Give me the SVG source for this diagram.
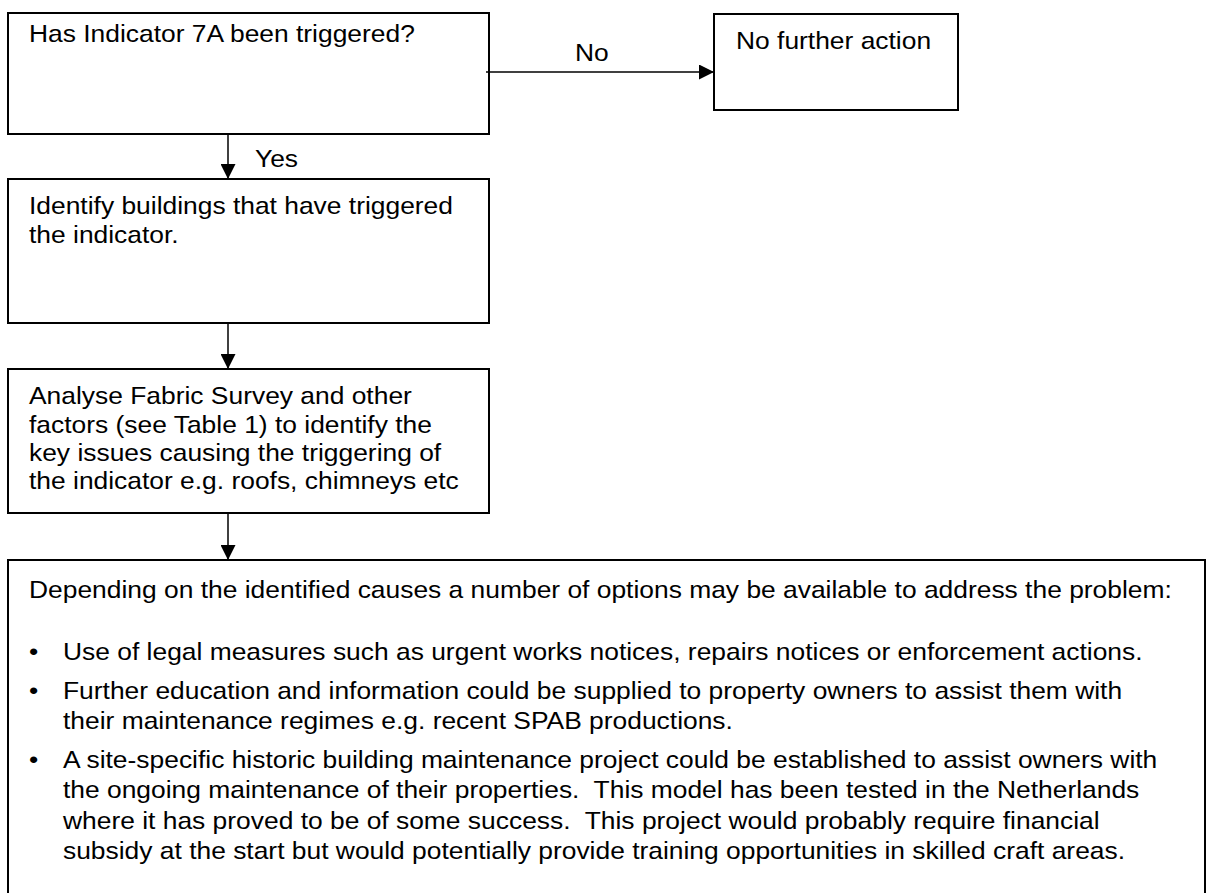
<svg xmlns="http://www.w3.org/2000/svg" width="1213" height="893" viewBox="0 0 1213 893">
  <style>
    .box { fill: #ffffff; stroke: #000000; stroke-width: 2; }
    .link { fill: none; stroke: #000000; stroke-width: 1.5; }
    .t { font-family: "Liberation Sans", Arial, sans-serif; font-size: 24px; fill: #000000; }
  </style>
  <defs>
    <marker id="arrow" markerUnits="userSpaceOnUse" markerWidth="15" markerHeight="15" refX="15" refY="7.5" orient="auto">
      <path d="M0,0 L15,7.5 L0,15 Z" fill="#000000"/>
    </marker>
  </defs>

  <rect width="1213" height="893" fill="#ffffff"/>

  <!-- decision: has the indicator been triggered -->
  <g id="node-question">
    <rect class="box" x="8" y="13" width="481" height="121"/>
    <text class="t" transform="translate(29 42) scale(1.1 1)">Has Indicator 7A been triggered?</text>
  </g>

  <!-- end state -->
  <g id="node-no-action">
    <rect class="box" x="714" y="14" width="244" height="96"/>
    <text class="t" transform="translate(736 49) scale(1.1 1)">No further action</text>
  </g>

  <!-- identify buildings -->
  <g id="node-identify">
    <rect class="box" x="8" y="179" width="481" height="144"/>
    <text class="t" transform="translate(29 214) scale(1.1 1)">Identify buildings that have triggered</text>
    <text class="t" transform="translate(29 243) scale(1.1 1)">the indicator.</text>
  </g>

  <!-- analyse survey -->
  <g id="node-analyse">
    <rect class="box" x="8" y="369" width="481" height="144"/>
    <text class="t" transform="translate(29 404) scale(1.1 1)">Analyse Fabric Survey and other</text>
    <text class="t" transform="translate(29 432.5) scale(1.1 1)">factors (see Table 1) to identify the</text>
    <text class="t" transform="translate(29 461) scale(1.1 1)">key issues causing the triggering of</text>
    <text class="t" transform="translate(29 489) scale(1.1 1)">the indicator e.g. roofs, chimneys etc</text>
  </g>

  <!-- options to address the problem (box runs past the lower edge of the page) -->
  <g id="node-options">
    <rect class="box" x="8" y="560" width="1197" height="345"/>
    <text class="t" transform="translate(29 598) scale(1.1 1)">Depending on the identified causes a number of options may be available to address the problem:</text>
    <text class="t" transform="translate(29 660) scale(1.1 1)">•</text>
    <text class="t" transform="translate(63 660) scale(1.1 1)">Use of legal measures such as urgent works notices, repairs notices or enforcement actions.</text>
    <text class="t" transform="translate(29 698.5) scale(1.1 1)">•</text>
    <text class="t" transform="translate(63 698.5) scale(1.1 1)">Further education and information could be supplied to property owners to assist them with</text>
    <text class="t" transform="translate(63 729) scale(1.1 1)">their maintenance regimes e.g. recent SPAB productions.</text>
    <text class="t" transform="translate(29 767.5) scale(1.1 1)">•</text>
    <text class="t" transform="translate(63 767.5) scale(1.1 1)">A site-specific historic building maintenance project could be established to assist owners with</text>
    <text class="t" xml:space="preserve" transform="translate(63 798) scale(1.1 1)">the ongoing maintenance of their properties.  This model has been tested in the Netherlands</text>
    <text class="t" xml:space="preserve" transform="translate(63 828.5) scale(1.1 1)">where it has proved to be of some success.  This project would probably require financial</text>
    <text class="t" transform="translate(63 859) scale(1.1 1)">subsidy at the start but would potentially provide training opportunities in skilled craft areas.</text>
  </g>

  <!-- connectors -->
  <g id="connectors">
    <line class="link" x1="486" y1="72" x2="714" y2="72" marker-end="url(#arrow)"/>
    <text class="t" transform="translate(575 61) scale(1.1 1)">No</text>
    <line class="link" x1="228" y1="134" x2="228" y2="179" marker-end="url(#arrow)"/>
    <text class="t" transform="translate(255 167) scale(1.1 1)">Yes</text>
    <line class="link" x1="228" y1="323" x2="228" y2="369" marker-end="url(#arrow)"/>
    <line class="link" x1="228" y1="513" x2="228" y2="560" marker-end="url(#arrow)"/>
  </g>
</svg>
